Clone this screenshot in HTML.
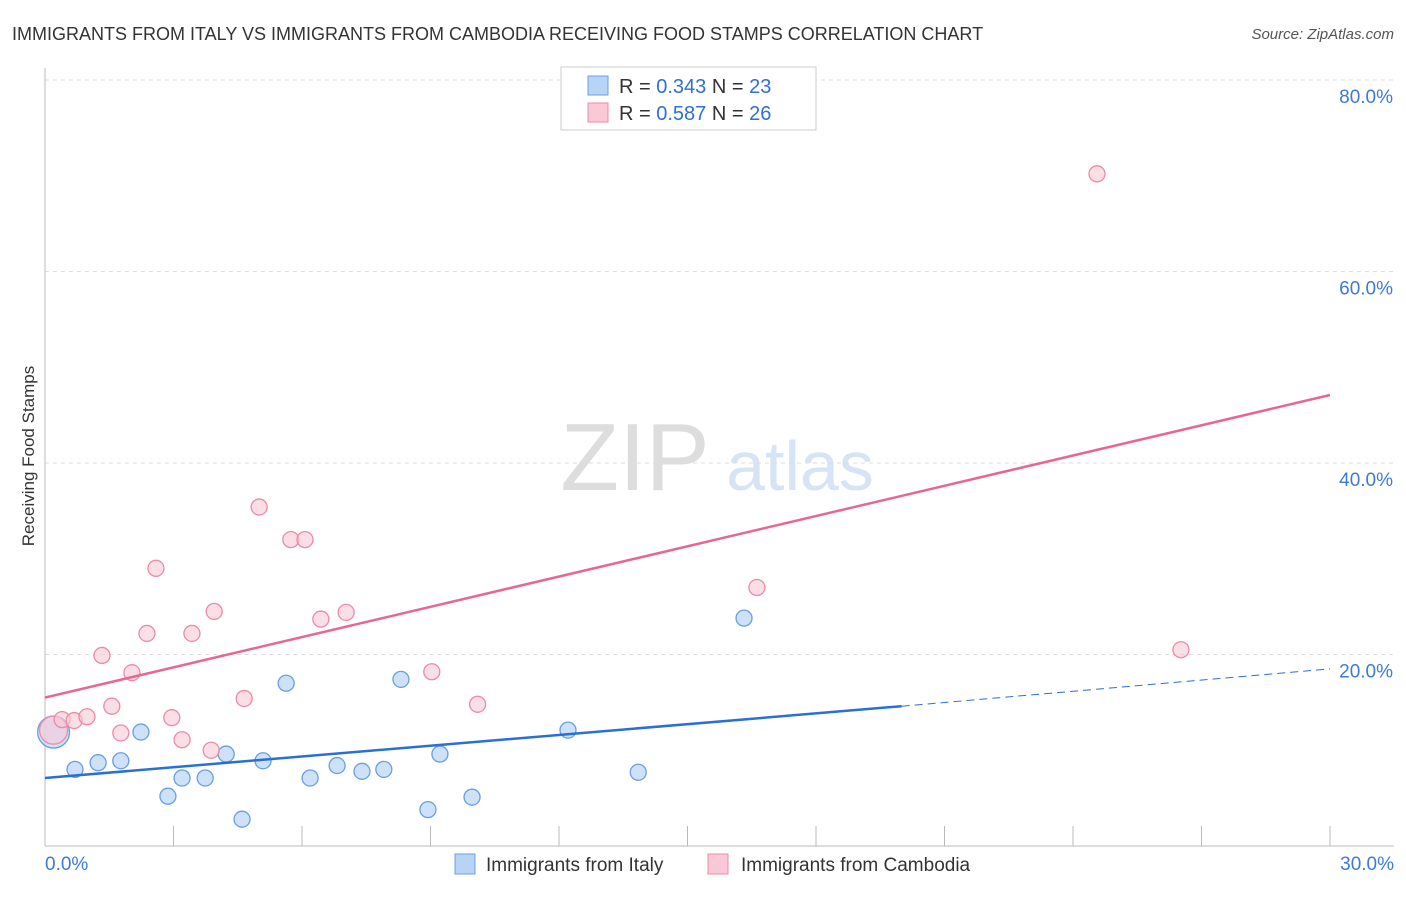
<!DOCTYPE html>
<html><head><meta charset="utf-8"><style>
body{margin:0;background:#fff;font-family:"Liberation Sans",sans-serif;}
svg text{font-family:"Liberation Sans",sans-serif;}
</style></head><body>
<svg id="chart" width="1406" height="892" xmlns="http://www.w3.org/2000/svg">
<text x="12" y="40" font-size="18" fill="#333">IMMIGRANTS FROM ITALY VS IMMIGRANTS FROM CAMBODIA RECEIVING FOOD STAMPS CORRELATION CHART</text>
<text x="1394" y="39" font-size="15" fill="#555" font-style="italic" text-anchor="end">Source: ZipAtlas.com</text>
<text transform="translate(34,456) rotate(-90)" font-size="17" fill="#333" text-anchor="middle">Receiving Food Stamps</text>
<g>
<text x="635" y="490" font-size="96" fill="#ddd" font-family="Liberation Serif" text-anchor="middle">ZIP</text>
<text x="800" y="490" font-size="70" fill="#d6e4f5" text-anchor="middle">atlas</text>
</g>
<g id="grid"></g><g id="axes"></g><g id="marks"></g>
<g>
<rect x="561" y="67" width="255" height="63" fill="#fff" stroke="#ccc"/>
<rect x="588" y="76" width="20" height="19" fill="#b8d4f5" stroke="#6a9fe0"/>
<rect x="588" y="103" width="20" height="19" fill="#fac8d6" stroke="#ec8aa8"/>
<text x="619" y="93" font-size="20" fill="#333">R = <tspan fill="#2f6fd6">0.343</tspan>   N = <tspan fill="#2f6fd6">23</tspan></text>
<text x="619" y="120" font-size="20" fill="#333">R = <tspan fill="#2f6fd6">0.587</tspan>   N = <tspan fill="#2f6fd6">26</tspan></text>
</g>
<g>
<rect x="455" y="854" width="20" height="20" fill="#b8d4f5" stroke="#6a9fe0"/>
<text x="486" y="871" font-size="19" fill="#333">Immigrants from Italy</text>
<rect x="708" y="854" width="20" height="20" fill="#fac8d6" stroke="#ec8aa8"/>
<text x="741" y="871" font-size="19" fill="#333">Immigrants from Cambodia</text>
</g>
</svg>
<script>
const italyX=[0.2,0.7,1.24,1.77,2.24,2.87,3.2,3.74,4.23,4.6,5.09,5.63,6.19,6.82,7.4,7.91,8.31,8.94,9.22,9.97,12.21,13.85,16.32];
const italyY=[11.9,8.0,8.7,8.9,11.9,5.2,7.1,7.1,9.6,2.8,8.9,17.0,7.1,8.4,7.8,8.0,17.4,3.8,9.6,5.1,12.1,7.7,23.8];
const cambX=[0.2,0.4,0.68,0.98,1.33,1.56,1.77,2.03,2.38,2.59,2.96,3.2,3.43,3.88,3.95,4.65,5.0,5.74,6.07,6.44,7.03,9.03,10.1,16.62,24.56,26.52];
const cambY=[12.1,13.2,13.1,13.5,19.9,14.6,11.8,18.1,22.2,29.0,13.4,11.1,22.2,10.0,24.5,15.4,35.4,32.0,32.0,23.7,24.4,18.2,14.8,27.0,70.2,20.5];
const yTicks=[20,40,60,80];
const yTickLabels=["20.0%","40.0%","60.0%","80.0%"];
const xTicks=[0,3,6,9,12,15,18,21,24,27,30];
const xEndLabels=["0.0%","30.0%"];
const italyTrend=[7.1,14.6,18.5]; // at x=0, 20.0, 30
const cambTrend=[15.5,47.1]; // at x=0, 30
const sx=v=>45+v/30*1285, sy=v=>846-v/20*191.5;
const NS="http://www.w3.org/2000/svg";
function mk(tag,attrs,parent,name){const e=document.createElementNS(NS,tag);for(const k in attrs)e.setAttribute(k,attrs[k]);


document.getElementById(parent).appendChild(e);return e;}
yTicks.forEach((t,i)=>{
 mk('line',{x1:45,x2:1394,y1:sy(t),y2:sy(t),stroke:'#ddd','stroke-dasharray':'4,4'},'grid','y-gridline');
 const tx=mk('text',{x:1393,y:sy(t)+23,'font-size':19,fill:'#3d7ad8','text-anchor':'end'},'axes','y-tick-label');tx.textContent=yTickLabels[i];
});
mk('line',{x1:45,x2:1394,y1:846,y2:846,stroke:'#bbb'},'axes','x-axis-line');
mk('line',{x1:45,x2:45,y1:68,y2:846,stroke:'#bbb'},'axes','y-axis-line');
xTicks.forEach(t=>{mk('line',{x1:sx(t),x2:sx(t),y1:826,y2:846,stroke:'#bbb'},'axes','x-tick');});
let a=mk('text',{x:45,y:870,'font-size':19,fill:'#3d7ad8'},'axes','x-tick-label');a.textContent=xEndLabels[0];
a=mk('text',{x:1394,y:870,'font-size':19,fill:'#3d7ad8','text-anchor':'end'},'axes','x-tick-label');a.textContent=xEndLabels[1];
italyX.forEach((x,i)=>{mk('circle',{cx:sx(x),cy:sy(italyY[i]),r:i==0?16:8,fill:'rgba(184,212,245,0.7)',stroke:'#6a9fe0','stroke-width':1.3},'marks','italy-point');});
cambX.forEach((x,i)=>{mk('circle',{cx:sx(x),cy:sy(cambY[i]),r:i==0?14:8,fill:'rgba(250,200,214,0.6)',stroke:'#ec8aa8','stroke-width':1.3},'marks','cambodia-point');});
mk('line',{x1:sx(0),y1:sy(italyTrend[0]),x2:sx(20),y2:sy(italyTrend[1]),stroke:'#2a6fd8','stroke-width':2.5},'marks','italy-trendline');
mk('line',{x1:sx(20),y1:sy(italyTrend[1]),x2:sx(30),y2:sy(italyTrend[2]),stroke:'#2a6fd8','stroke-width':1,'stroke-dasharray':'8,5'},'marks','italy-trendline-extension');
mk('line',{x1:sx(0),y1:sy(cambTrend[0]),x2:sx(30),y2:sy(cambTrend[1]),stroke:'#e8668f','stroke-width':2.5},'marks','cambodia-trendline');
</script>
</body></html>
